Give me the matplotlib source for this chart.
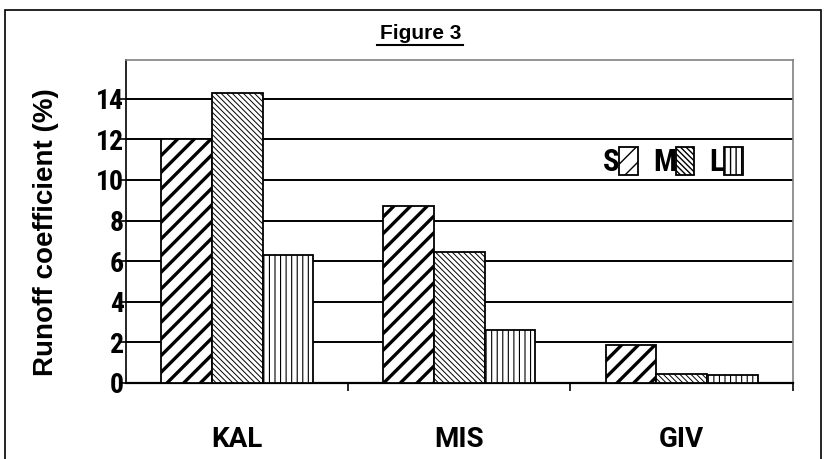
import numpy as np
import matplotlib.pyplot as plt
from matplotlib.patches import Rectangle
from matplotlib import font_manager

plt.rcParams['hatch.linewidth'] = 1.0

sites = ["KAL", "MIS", "GIV"]
series = ["S", "M", "L"]
s_vals = [12.0, 8.7, 1.85]
m_vals = [14.3, 6.45, 0.45]
l_vals = [6.3, 2.6, 0.38]
y_ticks = [0, 2, 4, 6, 8, 10, 12, 14]

hatches = ["//", "\\\\\\\\\\\\", "|||"]
hatch_lw = [2.4, 0.7, 0.8]

names = {f.name for f in font_manager.fontManager.ttflist}
narrow = "Roboto Condensed" if "Roboto Condensed" in names else "Liberation Sans"
wide = "Roboto" if "Roboto" in names else "Liberation Sans"

fig = plt.figure(figsize=(8.24, 4.59), dpi=100)
ax = fig.add_axes([0.153, 0.1656, 0.809, 0.7035])

x = np.arange(len(sites))
width = 0.228
for i, vals in enumerate([s_vals, m_vals, l_vals]):
    bars = ax.bar(x + (i - 1) * width, vals, width, color="white", edgecolor="black",
                  linewidth=1.3, hatch=hatches[i], label=series[i], zorder=3)
    for b in bars:
        if hasattr(b, "set_hatch_linewidth"):
            b.set_hatch_linewidth(hatch_lw[i])

ax.set_xlim(-0.5, 2.5)
ax.set_ylim(0, 15.9)

# horizontal gridlines
for v in y_ticks[1:]:
    ax.axhline(v, color="black", linewidth=1.4, zorder=1)

ax.set_yticks(y_ticks)
ax.set_yticklabels([str(v) for v in y_ticks], fontfamily=narrow, fontweight="bold", fontsize=20)
ax.tick_params(axis="y", direction="out", length=4, width=1.2, pad=-2.5)

ax.set_xticks([0.5, 1.5, 2.5])
ax.set_xticklabels([])
ax.tick_params(axis="x", which="major", direction="out", length=6, width=1.2)
ax.set_xticks(x, sites, minor=True)
ax.tick_params(axis="x", which="minor", length=0, pad=31)
for t in ax.get_xticklabels(minor=True):
    t.set_fontfamily(wide)
    t.set_fontweight("bold")
    t.set_fontsize(20)

ax.spines["left"].set_linewidth(1.2)
ax.spines["bottom"].set_linewidth(1.6)
for s in ["top", "right"]:
    ax.spines[s].set_color("#808080")
    ax.spines[s].set_linewidth(1.2)

ax.set_ylabel("Runoff coefficient (%)", fontfamily="Liberation Sans", fontweight="bold", fontsize=20)
ax.yaxis.set_label_coords(-0.1, 0.468)

leg = ax.legend(loc="center", bbox_to_anchor=(0.82, 0.685), ncol=3, markerfirst=False,
                frameon=False, handlelength=0.6, handleheight=1.05, handletextpad=0.0,
                columnspacing=0.5, borderpad=0,
                prop={"family": narrow, "weight": "bold", "size": 22})

fig.text(0.51, 0.927, "Figure 3", ha="center", va="center", fontfamily="Liberation Sans",
         fontweight="bold", fontsize=15)
# underline for the heading
fig.add_artist(plt.Line2D([0.4575, 0.562], [0.902, 0.902], color="black", linewidth=1.5))

# outer frame
fig.add_artist(Rectangle((0.006, -0.05), 0.99, 1.028, transform=fig.transFigure,
                         fill=False, edgecolor="black", linewidth=1.2))

fig.savefig("out.png", dpi=100)
